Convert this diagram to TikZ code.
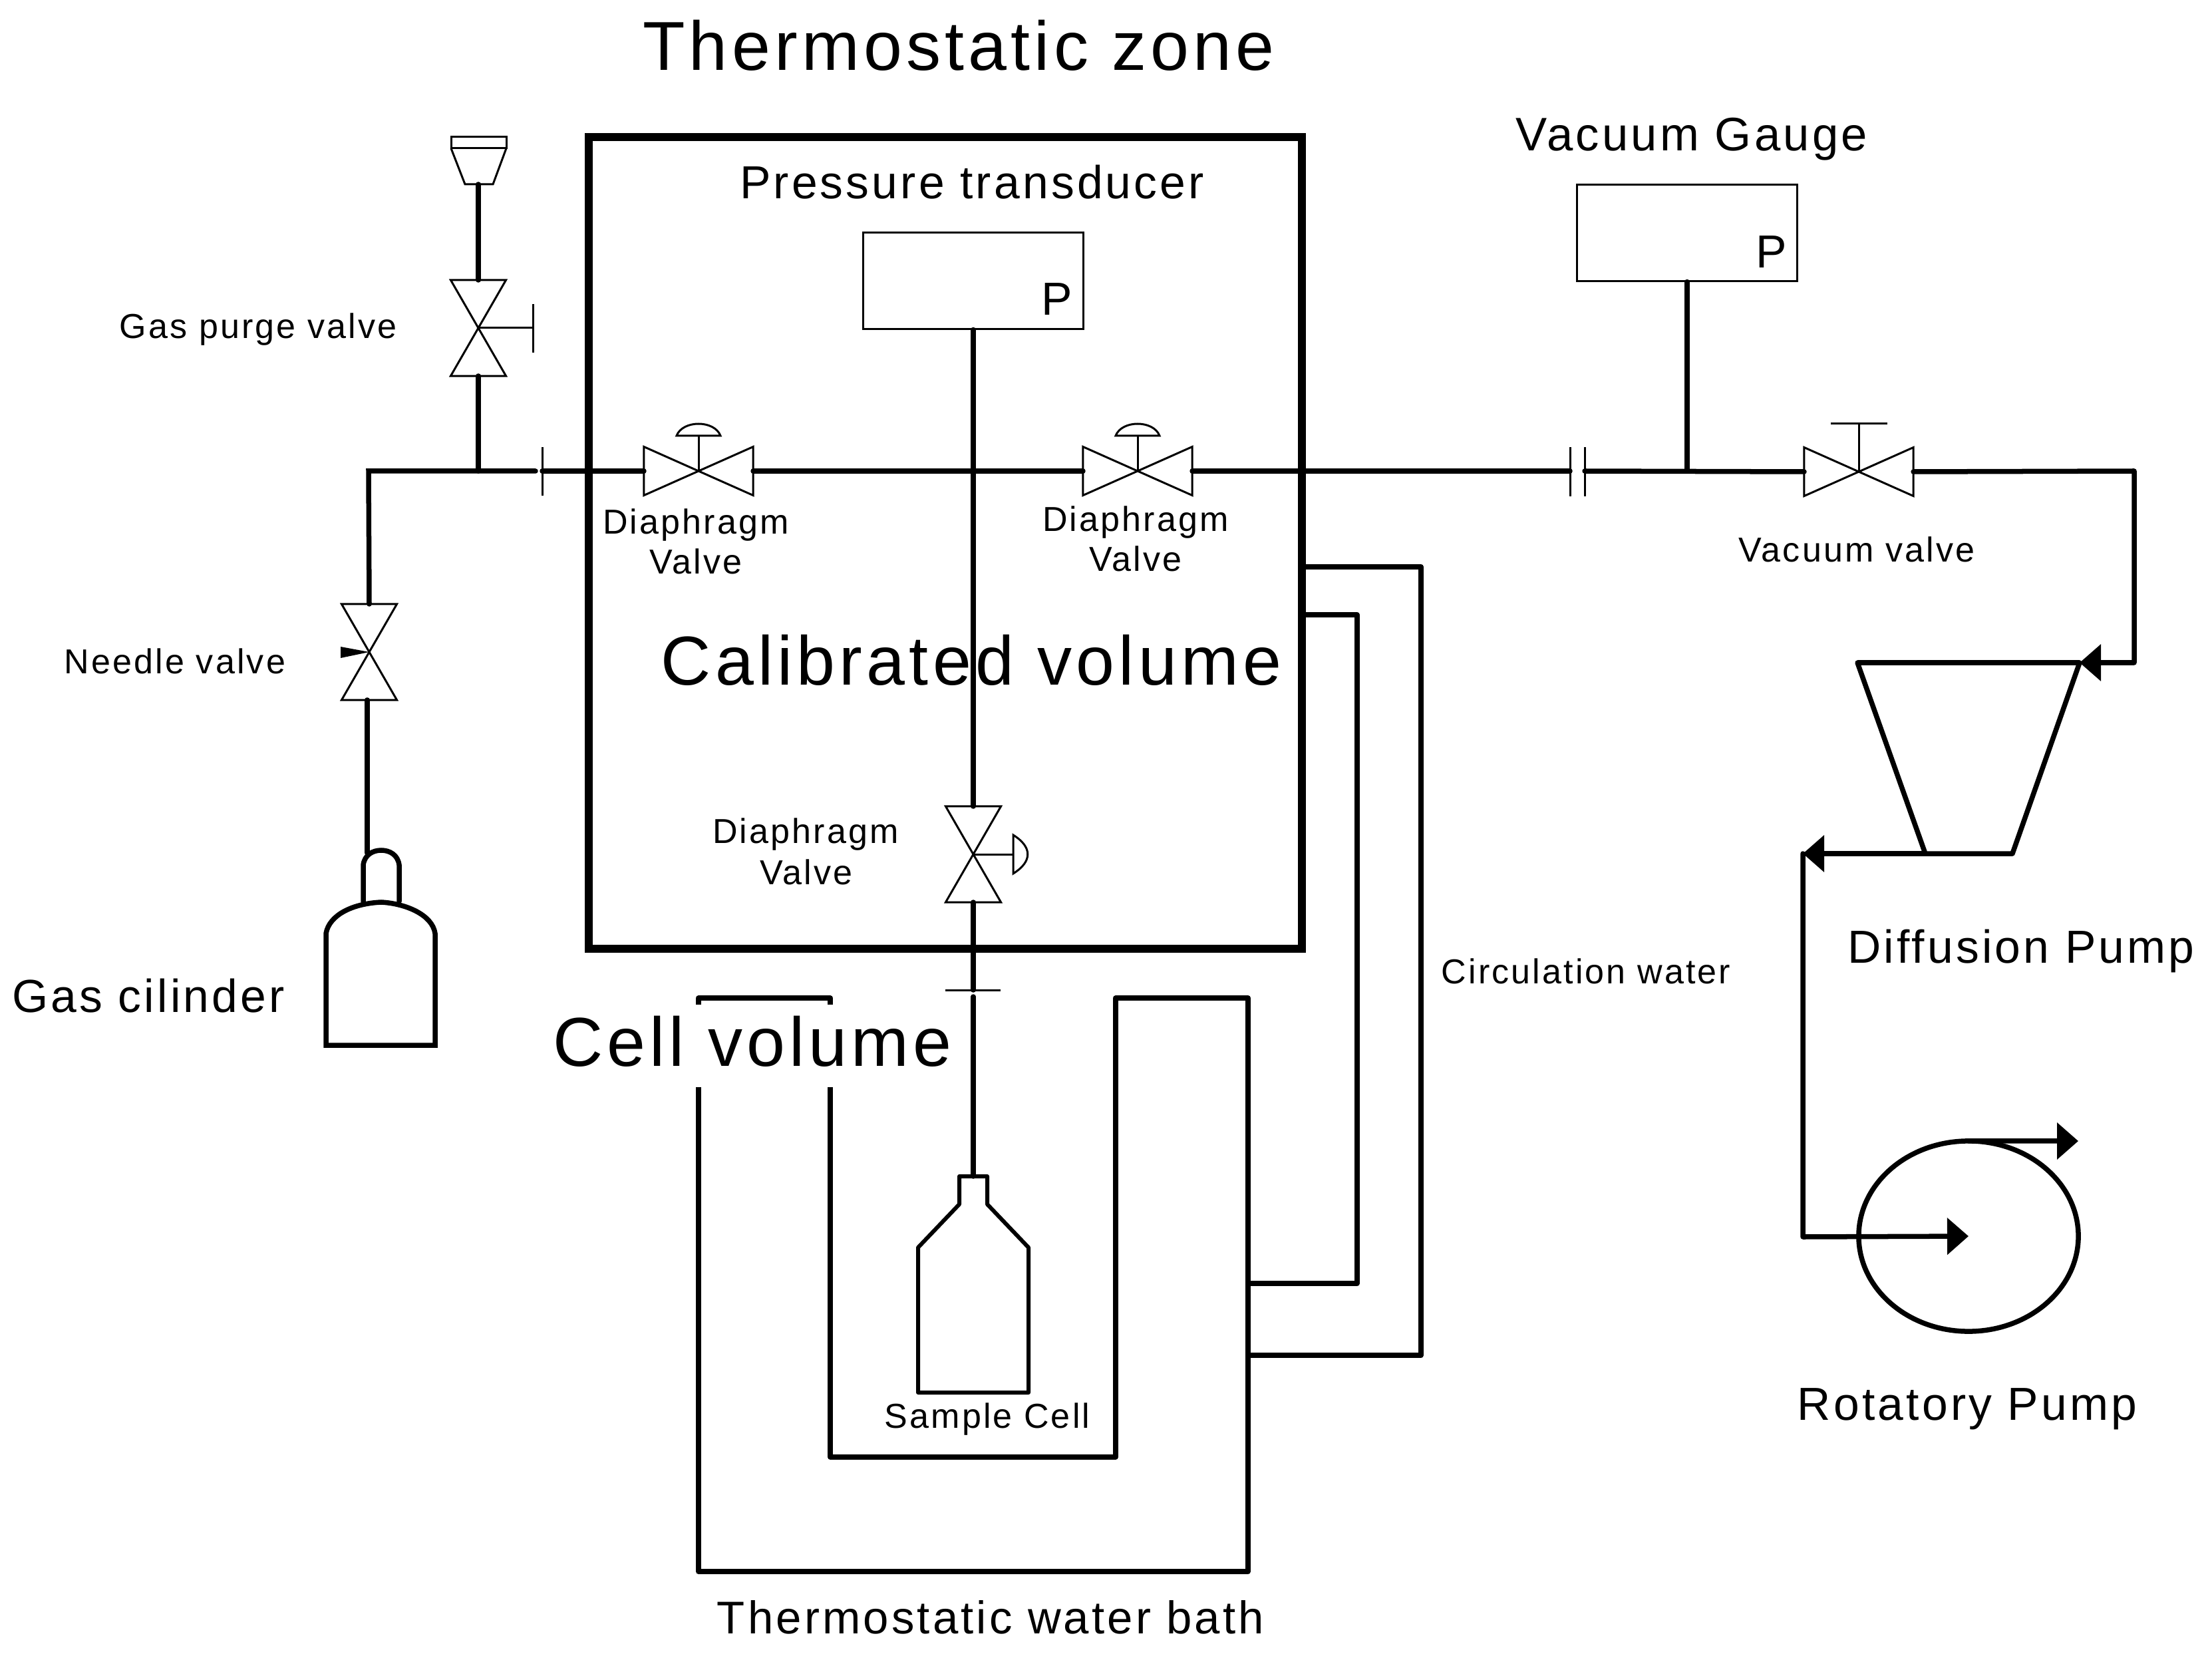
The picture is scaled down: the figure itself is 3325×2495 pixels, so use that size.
\documentclass[tikz,border=0pt]{standalone}
\usepackage{fontspec}
\setmainfont[LetterSpace=6]{Liberation Sans}
\usetikzlibrary{arrows.meta,shapes.geometric}

\begin{document}
\begin{tikzpicture}[x=0.01cm, y=-0.01cm]

\tikzstyle{label}=[anchor=base, inner sep=0pt]
\tikzstyle{large}=[label, font=\fontsize{29.6pt}{32pt}\selectfont]
\tikzstyle{medium}=[label, font=\fontsize{19.8pt}{22pt}\selectfont]
\tikzstyle{small}=[label, font=\fontsize{14.8pt}{17pt}\selectfont]
\tikzstyle{valve}=[rectangle, inner sep=0pt, outer sep=0pt]
\tikzstyle{hvalve}=[valve, minimum width=1.64cm, minimum height=0.73cm]
\tikzstyle{vvalve}=[valve, minimum width=0.83cm, minimum height=1.44cm]
\tikzstyle{gauge}=[rectangle, draw, line width=0.03cm, minimum width=3.3cm, minimum height=1.44cm, inner sep=0pt]
\tikzstyle{thin line}=[line width=0.03cm]
\tikzstyle{pipe}=[line width=0.075cm, line cap=round]
\tikzstyle{vessel}=[line width=0.06cm, line join=round]
\tikzstyle{head}=[-{Triangle[length=0.32cm, width=0.54cm]}]

\useasboundingbox (0,0) rectangle (3325,2495);

\node[rectangle, draw, line width=0.12cm, minimum width=10.72cm, minimum height=12.2cm, outer sep=0pt] (zone) at (1421,816) {};

\draw[pipe, line join=round] (1050,1500) -- (1050,2362) -- (1876,2362) -- (1876,1500) -- (1677,1500) -- (1677,2190) -- (1248,2190) -- (1248,1500) -- cycle;

\node[large] (zonetitle) at (1441,106) {Thermostatic zone};
\node[large] (calibrated) at (1460,1030) {Calibrated volume};
\node[large, fill=white, text height=0.92cm, text depth=0.32cm, inner xsep=0.02cm] (cellvolume) at (1131,1602) {Cell volume};

\node[medium] (transducerlabel) at (1461,299) {Pressure transducer};
\node[medium, font=\fontsize{20.1pt}{22pt}\selectfont] (gaugelabel) at (2543,227) {Vacuum Gauge};
\node[medium] (cylinderlabel) at (223,1521) {Gas cilinder};
\node[medium] (diffusionlabel) at (3038,1447) {Diffusion Pump};
\node[medium] (rotarylabel) at (2957,2134) {Rotatory Pump};
\node[medium, font=\fontsize{19.6pt}{22pt}\selectfont] (bathlabel) at (1489,2455) {Thermostatic water bath};

\node[small] (purgelabel) at (388,509) {Gas purge valve};
\node[small] (needlelabel) at (263,1012) {Needle valve};
\node[small] (diaLlabel1) at (1046,803) {Diaphragm};
\node[small] (diaLlabel2) at (1046,863) {Valve};
\node[small] (diaRlabel1) at (1707,799) {Diaphragm};
\node[small] (diaRlabel2) at (1707,859) {Valve};
\node[small] (diaClabel1) at (1211,1267) {Diaphragm};
\node[small] (diaClabel2) at (1212,1329) {Valve};
\node[small] (vacuumlabel) at (2791,845) {Vacuum valve};
\node[small] (samplelabel) at (1484,2146) {Sample Cell};
\node[small] (waterlabel) at (2384,1478) {Circulation water};

\node[gauge] (transducer) at (1463,422) {};
\node[gauge] (vacgauge) at (2536,350) {};
\node[medium] (transducerP) at (1589,474) {P};
\node[medium] (vacgaugeP) at (2663,403) {P};

\node[vvalve] (purge) at (719,493) {};
\node[vvalve] (needle) at (555,980) {};
\node[vvalve] (diaC) at (1463,1284) {};
\node[hvalve] (diaL) at (1050,708) {};
\node[hvalve] (diaR) at (1710,708) {};
\node[hvalve] (vacuum) at (2794,709) {};
\node[ellipse, draw, line width=0.075cm, minimum width=3.3cm, minimum height=2.86cm, inner sep=0pt, outer sep=0pt] (rotary) at (2959,1858) {};

\coordinate (funnel) at (719,277);
\coordinate (tee1) at (719,708);
\coordinate (corner1) at (554,708);
\coordinate (flange1a) at (805,708);
\coordinate (flange1b) at (815,708);
\coordinate (flange2a) at (2360,708);
\coordinate (flange2b) at (2382,708);
\coordinate (tee2) at (2536,708);
\coordinate (corner2) at (3208,708);
\coordinate (pumpin) at (3126,996);
\coordinate (pumpoutL) at (2894,1283);
\coordinate (pumpoutR) at (3025,1283);
\coordinate (corner3) at (2710,1283);
\coordinate (corner4) at (2710,1859);
\coordinate (flange3) at (1463,1488);
\coordinate (cellpipe) at (1463,1498);
\coordinate (celltop) at (1463,1768);
\coordinate (needlefoot) at (552,1052);
\coordinate (cylindertop) at (552,1282);

\draw[pipe] (funnel) -- (purge.north);
\draw[pipe] (purge.south) -- (tee1);
\draw[pipe] (needle.north) -- (corner1) -- (flange1a);
\draw[pipe] (flange1b) -- (diaL.west);
\draw[pipe] (diaL.east) -- (diaR.west);
\draw[pipe] (diaR.east) -- (flange2a);
\draw[pipe] (flange2b) -- (vacuum.west);
\draw[pipe] (vacgauge.south) -- (tee2);
\draw[pipe] (needlefoot) -- (cylindertop);
\draw[pipe] (transducer.south) -- (diaC.north);
\draw[pipe] (diaC.south) -- (flange3);
\draw[pipe] (cellpipe) -- (celltop);

\draw[pipe, head, line join=round] (vacuum.east) -- (corner2) |- (pumpin);
\draw[pipe, head, line join=round] (pumpoutL) -- (corner3);
\draw[pipe, head, line join=round] (corner3) -- (corner4) -- (rotary.center);
\draw[pipe, head] (rotary.north) -- (3124,1715);

\draw[pipe, line cap=butt, line join=round] (1957,852) -- (2136,852) -- (2136,2037) -- (1876,2037);
\draw[pipe, line cap=butt, line join=round] (1957,924) -- (2040,924) -- (2040,1929) -- (1876,1929);

\draw[thin line] (purge.north west) -- (purge.south east) -- (purge.south west) -- (purge.north east) -- cycle;
\draw[thin line] (needle.north west) -- (needle.south east) -- (needle.south west) -- (needle.north east) -- cycle;
\draw[thin line] (diaC.north west) -- (diaC.south east) -- (diaC.south west) -- (diaC.north east) -- cycle;
\draw[thin line] (diaL.north west) -- (diaL.south east) -- (diaL.north east) -- (diaL.south west) -- cycle;
\draw[thin line] (diaR.north west) -- (diaR.south east) -- (diaR.north east) -- (diaR.south west) -- cycle;
\draw[thin line] (vacuum.north west) -- (vacuum.south east) -- (vacuum.north east) -- (vacuum.south west) -- cycle;

\draw[thin line] (purge.center) -- (801,493);
\draw[thin line] (801,457) -- (801,530);
\draw[thin line] (vacuum.center) -- (2794,637);
\draw[thin line] (2752,637) -- (2837,637);
\fill (512,972) -- (needle.center) -- (512,989) -- cycle;

\draw[thin line] (diaL.center) -- (1050,655);
\draw[thin line] (1017,655) -- (1083,655) .. controls (1074,631) and (1026,631) .. cycle;
\draw[thin line] (diaR.center) -- (1710,655);
\draw[thin line] (1677,655) -- (1743,655) .. controls (1734,631) and (1686,631) .. cycle;
\draw[thin line] (diaC.center) -- (1523,1284);
\draw[thin line] (1523,1255) -- (1523,1313) .. controls (1552,1295) and (1552,1273) .. cycle;

\draw[thin line] (815,672) -- (815,745);
\draw[thin line] (2360,672) -- (2360,746);
\draw[thin line] (2382,672) -- (2382,746);
\draw[thin line] (1421,1488) -- (1504,1488);

\draw[thin line] (678,206) rectangle (761,223);
\draw[thin line] (678,223) -- (699,277) -- (741,277) -- (761,223);

\draw[pipe, line join=round] (2792,996) -- (pumpin) -- (pumpoutR) -- (pumpoutL) -- cycle;

\draw[vessel] (1442,1810) -- (1442,1768) -- (1484,1768) -- (1484,1810) -- (1546,1875) -- (1546,2093) -- (1380,2093) -- (1380,1875) -- cycle;
\draw[pipe] (490,1403) -- (490,1571) -- (654,1571) -- (654,1403) .. controls (650,1375) and (610,1358) .. (573,1356) .. controls (530,1358) and (495,1375) .. (490,1403);
\draw[pipe] (546,1355) -- (546,1300) .. controls (548,1285) and (560,1278) .. (573,1278) .. controls (586,1278) and (598,1285) .. (600,1300) -- (600,1355);

\end{tikzpicture}
\end{document}
